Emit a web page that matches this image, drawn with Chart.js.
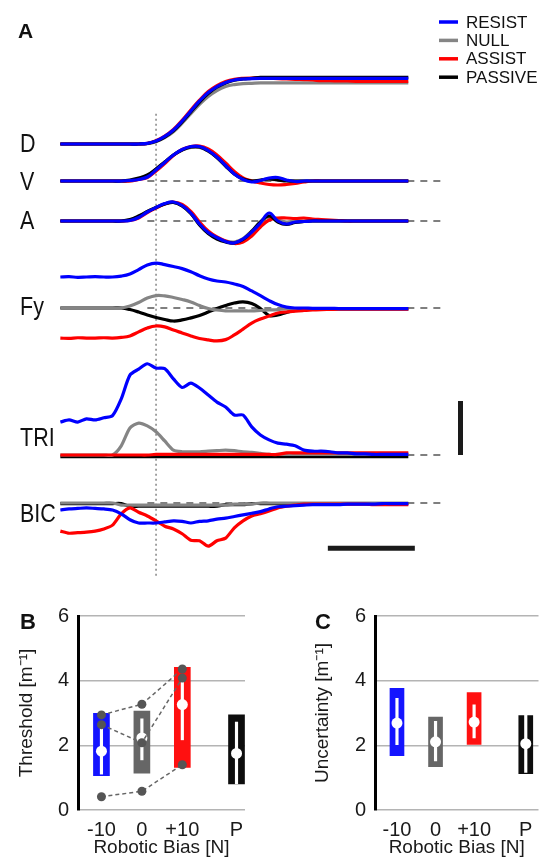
<!DOCTYPE html>
<html>
<head>
<meta charset="utf-8">
<script src="https://cdn.jsdelivr.net/npm/chart.js@4.4.0/dist/chart.umd.min.js"></script>
<style>
  html, body { margin: 0; padding: 0; background: #fff; }
  #fig { position: relative; width: 544px; height: 860px; overflow: hidden; }
  #fig canvas { position: absolute; }
</style>
</head>
<body>
<div id="fig">
  <canvas id="traces" width="544" height="595" style="left:0;top:0;width:544px;height:595px"></canvas>
  <canvas id="threshold" width="272" height="265" style="left:0;top:595px;width:272px;height:265px"></canvas>
  <canvas id="uncertainty" width="272" height="265" style="left:272px;top:595px;width:272px;height:265px"></canvas>
</div>
<script>
// time in ms, 0 = movement onset (dotted line)
const timeMs = [-220, -200, -180, -160, -140, -120, -100, -80, -60, -40, -20, 0, 20, 40, 60, 80, 100, 120, 140, 160,
  180, 200, 220, 240, 260, 280, 300, 320, 340, 360, 380, 400, 420, 440, 460, 480, 500, 520, 540, 560, 580];

const conditions = ["RESIST", "NULL", "ASSIST", "PASSIVE"];
const condColors = ["#0000ff", "#858585", "#ff0000", "#000000"];

// displacement [cm]
const dResist = [0, 0, 0, 0, 0, 0, 0, 0, 0, 0, 0.1, 0.45, 1.14, 2.12, 3.48, 5.0, 6.52, 7.8, 8.71, 9.32, 9.7, 9.85, 9.92,
  9.95, 9.95, 9.95, 9.95, 9.95, 9.95, 9.95, 9.95, 9.95, 9.95, 9.95, 9.95, 9.95, 9.95, 9.95, 9.95, 9.95, 9.95];
const dNull = [0, 0, 0, 0, 0, 0, 0, 0, 0, 0, 0.05, 0.35, 0.95, 1.85, 3.15, 4.6, 6.0, 7.2, 8.1, 8.7, 9.0, 9.15, 9.2,
  9.25, 9.25, 9.25, 9.25, 9.25, 9.25, 9.25, 9.25, 9.25, 9.25, 9.25, 9.25, 9.25, 9.25, 9.25, 9.25, 9.25, 9.25];
const dAssist = [0, 0, 0, 0, 0, 0, 0, 0, 0, 0, 0.1, 0.5, 1.2, 2.2, 3.6, 5.15, 6.65, 7.95, 8.85, 9.45, 9.8, 9.95, 10.0,
  10.0, 9.95, 9.9, 9.85, 9.8, 9.75, 9.7, 9.6, 9.6, 9.55, 9.55, 9.5, 9.5, 9.5, 9.5, 9.5, 9.5, 9.5];
const dPassive = [0, 0, 0, 0, 0, 0, 0, 0, 0, 0, 0.08, 0.4, 1.05, 2.0, 3.35, 4.85, 6.35, 7.65, 8.6, 9.25, 9.65, 9.85, 9.95,
  10.1, 10.1, 10.1, 10.1, 10.1, 10.1, 10.1, 10.1, 10.1, 10.1, 10.1, 10.1, 10.1, 10.1, 10.1, 10.1, 10.1, 10.1];

// velocity [m/s]
const vResist = [0, 0, 0, 0, 0, 0, 0, 0, 0.005, 0.015, 0.04, 0.11, 0.185, 0.26, 0.315, 0.345, 0.345, 0.305, 0.24, 0.155,
  0.07, 0.015, -0.01, 0.005, 0.03, 0.035, 0.01, -0.005, 0, 0, 0, 0, 0, 0, 0, 0, 0, 0, 0, 0, 0];
const vNull = [0, 0, 0, 0, 0, 0, 0, 0, 0, 0.02, 0.05, 0.12, 0.19, 0.26, 0.31, 0.335, 0.335, 0.3, 0.235, 0.15,
  0.07, 0.02, 0, 0.005, 0.015, 0.01, 0.005, 0, 0, 0, 0, 0, 0, 0, 0, 0, 0, 0, 0, 0, 0];
const vAssist = [0, 0, 0, 0, 0, 0, 0, 0, 0, 0.015, 0.035, 0.1, 0.175, 0.255, 0.315, 0.345, 0.35, 0.32, 0.26, 0.18,
  0.095, 0.03, 0, -0.02, -0.035, -0.04, -0.035, -0.025, -0.01, 0, 0, 0, 0, 0, 0, 0, 0, 0, 0, 0, 0];
const vPassive = [0, 0, 0, 0, 0, 0, 0, 0, 0.01, 0.03, 0.06, 0.12, 0.19, 0.26, 0.31, 0.34, 0.34, 0.3, 0.235, 0.15,
  0.07, 0.02, 0, 0.01, 0.02, 0.01, 0, 0, 0, 0, 0, 0, 0, 0, 0, 0, 0, 0, 0, 0, 0];

// acceleration [m/s^2]
const aResist = [0, 0, 0, 0, 0, 0, 0, 0, 0.05, 0.35, 0.9, 1.35, 1.75, 1.9, 1.55, 0.8, -0.3, -1.15, -1.65, -2.05,
  -2.2, -1.8, -1.1, -0.2, 0.8, 0, -0.3, -0.1, -0.05, 0, 0, 0, 0, 0, 0, 0, 0, 0, 0, 0, 0];
const aNull = [0, 0, 0, 0, 0, 0, 0, 0, 0.1, 0.45, 0.95, 1.35, 1.7, 1.85, 1.5, 0.75, -0.35, -1.2, -1.7, -2.0,
  -2.1, -1.75, -1.0, -0.1, 0.4, 0.1, -0.1, 0, 0, 0, 0, 0, 0, 0, 0, 0, 0, 0, 0, 0, 0];
const aAssist = [0, 0, 0, 0, 0, 0, 0, 0, 0.05, 0.3, 0.85, 1.3, 1.7, 1.9, 1.65, 0.95, -0.1, -1.0, -1.6, -2.0,
  -2.25, -2.1, -1.5, -0.6, 0.1, 0.3, 0.3, 0.25, 0.3, 0.2, 0.15, 0.1, 0.05, 0, 0, 0, 0, 0, 0, 0, 0];
const aPassive = [0, 0, 0, 0, 0, 0, 0, 0, 0.15, 0.5, 0.95, 1.35, 1.7, 1.85, 1.5, 0.75, -0.4, -1.25, -1.8, -2.1,
  -2.2, -1.85, -1.05, -0.1, 0.5, -0.1, -0.35, -0.15, -0.05, 0, 0, 0, 0, 0, 0, 0, 0, 0, 0, 0, 0];

// handle force Fy [N]
const fyResist = [10.0, 10.1, 9.9, 10.0, 10.1, 10.0, 10.0, 10.3, 11.0, 12.4, 13.9, 14.5, 14.0, 13.4, 12.7, 11.7, 10.4,
  9.35, 8.7, 8.4, 7.75, 6.95, 5.5, 4.0, 2.4, 1.1, 0.3, 0, 0, -0.1, -0.1, -0.1, -0.2, -0.2, -0.2, -0.2, -0.2, -0.2, -0.2, -0.2, -0.2];
const fyNull = [0, 0, 0, 0, 0, 0, 0, 0, 0.65, 1.75, 3.2, 4.0, 3.9, 3.4, 2.75, 1.95, 0.8, -0.15, -0.65, -0.95,
  -0.95, -0.95, -0.95, -0.8, -0.65, -0.5, -0.3, -0.3, -0.3, -0.3, -0.3, -0.3, -0.3, -0.3, -0.3, -0.3, -0.3, -0.3, -0.3, -0.3, -0.3];
const fyAssist = [-9.7, -9.8, -9.6, -9.7, -9.7, -9.6, -9.7, -9.5, -9.0, -7.7, -6.45, -5.8, -6.1, -7.1, -8.05, -9.0, -9.85,
  -10.3, -10.6, -10.2, -8.7, -6.8, -4.85, -3.55, -2.6, -1.6, -1.3, -1.0, -0.8, -0.65, -0.5, -0.45,
  -0.4, -0.4, -0.4, -0.4, -0.4, -0.4, -0.4, -0.4, -0.4];
const fyPassive = [0, 0, 0, 0, 0, 0, 0, 0, -0.5, -1.3, -2.25, -3.05, -3.7, -4.2, -3.85, -3.2, -2.4, -1.3, -0.15, 0.8,
  1.6, 1.95, 1.45, -0.15, -2.4, -2.25, -1.45, -0.8, -0.5, -0.3, -0.3, -0.3, -0.3, -0.3, -0.3, -0.3, -0.3, -0.3, -0.3, -0.3, -0.3];

// triceps EMG [a.u.]
const triResist = [0.61, 0.65, 0.61, 0.67, 0.65, 0.69, 0.73, 1.04, 1.48, 1.59, 1.69, 1.61, 1.6, 1.41, 1.25, 1.33, 1.24,
  1.11, 0.98, 0.89, 0.74, 0.74, 0.52, 0.37, 0.28, 0.22, 0.2, 0.17, 0.09, 0.07, 0.07, 0.06, 0.04, 0.04, 0.02, 0.02,
  0.01, 0.01, 0.01, 0.01, 0.01];
const triNull = [0, 0, 0, 0, 0, 0, 0, 0.17, 0.5, 0.59, 0.54, 0.43, 0.26, 0.09, 0.06, 0.06, 0.06, 0.07, 0.08, 0.09,
  0.08, 0.06, 0.05, 0.03, 0.01, 0.01, 0.01, 0.01, 0.01, 0.01, 0.01, 0.01, 0.01, 0.01, 0.01, 0.01, 0.01, 0.01, 0.01, 0.01, 0.01];
const triAssist = [0, 0, 0, 0, 0, 0, 0, 0, 0, 0, 0, 0.01, 0.01, 0.01, 0.01, 0.01, 0.01, 0.01, 0.01, 0.01, 0.01, 0.01, 0.01,
  0.01, 0.01, 0.01, 0.04, 0.04, 0.04, 0.04, 0.04, 0.04, 0.04, 0.04, 0.04, 0.04, 0.04, 0.04, 0.04, 0.04, 0.04];
const triPassive = [-0.03, -0.03, -0.03, -0.03, -0.03, -0.03, -0.03, -0.03, -0.03, -0.03, -0.03, -0.03, -0.03, -0.03,
  -0.03, -0.03, -0.03, -0.03, -0.03, -0.03, -0.03, -0.03, -0.03, -0.03, -0.03, -0.03, -0.03, -0.03, -0.03, -0.03,
  -0.03, -0.03, -0.03, -0.03, -0.03, -0.03, -0.03, -0.03, -0.03, -0.03, -0.03];

// biceps EMG [a.u.], plotted downward
const bicResist = [-0.13, -0.11, -0.1, -0.09, -0.1, -0.11, -0.13, -0.2, -0.31, -0.37, -0.37, -0.37, -0.35, -0.33, -0.34,
  -0.37, -0.34, -0.33, -0.3, -0.28, -0.25, -0.22, -0.19, -0.16, -0.11, -0.07, -0.06, -0.05, -0.04, -0.03, -0.03,
  -0.03, -0.03, -0.02, -0.02, -0.02, -0.02, -0.01, -0.01, -0.01, -0.01];
const bicNull = [0, 0, 0, 0, 0, 0, 0, -0.04, -0.04, -0.04, -0.04, -0.04, -0.04, -0.04, -0.04, -0.04, -0.04, -0.04, -0.04,
  -0.04, -0.02, -0.02, -0.02, 0, 0, 0, 0, 0, 0, 0, 0, 0, 0, 0, 0, 0, 0, 0, 0, 0, 0];
const bicAssist = [-0.52, -0.56, -0.55, -0.54, -0.52, -0.48, -0.41, -0.2, -0.09, -0.17, -0.24, -0.33, -0.43, -0.48,
  -0.57, -0.69, -0.7, -0.8, -0.7, -0.65, -0.46, -0.33, -0.24, -0.2, -0.15, -0.09, -0.06, -0.04, -0.02, -0.02, -0.02,
  -0.02, -0.02, -0.02, -0.02, -0.02, -0.03, -0.03, -0.03, -0.03, -0.03];
const bicPassive = [-0.01, -0.01, -0.01, -0.01, -0.01, -0.01, -0.01, -0.01, -0.06, -0.06, -0.06, -0.06, -0.06, -0.06,
  -0.06, -0.06, -0.06, -0.06, -0.06, -0.03, -0.03, -0.03, -0.01, -0.01, -0.01, -0.01, -0.01, -0.01, -0.01, -0.01,
  -0.01, -0.01, -0.01, -0.01, -0.01, -0.01, -0.01, -0.01, -0.01, -0.01, -0.01];

// panels B and C
const biasLabels = ["-10", "0", "+10", "P"];
const biasPos = [-10, 0, 10, 23.4];
const boxColors = ["#1414ff", "#666666", "#ff1010", "#0d0d0d"];
const thresholdBox = [[1.06, 2.99], [1.14, 3.06], [1.32, 4.41], [0.81, 2.94]];
const thresholdWhisker = [[1.11, 2.68], [1.55, 2.82], [2.17, 4.05], [0.81, 2.72]];
const thresholdMedian = [1.82, 2.23, 3.26, 1.75];
const thresholdSubjects = [[2.94, 3.27, 4.36], [2.64, 2.08, 4.08], [0.41, 0.58, 1.40]];
const uncertaintyBox = [[1.68, 3.76], [1.34, 2.87], [2.03, 3.63], [1.12, 2.92]];
const uncertaintyWhisker = [[2.02, 3.45], [1.52, 2.74], [2.23, 3.25], [1.16, 3.04]];
const uncertaintyMedian = [2.69, 2.11, 2.72, 2.05];

Chart.defaults.font.family = "'Liberation Sans', Arial, sans-serif";
Chart.defaults.color = "#1a1a1a";

// ---------- panel A ----------
const plotTop = 60, plotBottom = 590;

// base = pixel row of the zero line, pxPerUnit = vertical gain, rank = draw order per condition (0 on top)
const rows = [
  { axis: "yD", name: "D", series: [dResist, dNull, dAssist, dPassive], base: 144, pxPerUnit: 6.6, rank: [0, 3, 2, 1], zeroLine: false, labelAt: 0.1, tension: 0.4 },
  { axis: "yV", name: "V", series: [vResist, vNull, vAssist, vPassive], base: 181, pxPerUnit: 100, rank: [0, 3, 2, 1], zeroLine: true, labelAt: 0, tension: 0.4 },
  { axis: "yA", name: "A", series: [aResist, aNull, aAssist, aPassive], base: 221, pxPerUnit: 10, rank: [0, 3, 2, 1], zeroLine: true, labelAt: 0.1, tension: 0.4 },
  { axis: "yFy", name: "Fy", series: [fyResist, fyNull, fyAssist, fyPassive], base: 308, pxPerUnit: 3.1, rank: [0, 2, 1, 3], zeroLine: true, labelAt: 0.6, tension: 0.4 },
  { axis: "yTRI", name: "TRI", series: [triResist, triNull, triAssist, triPassive], base: 455, pxPerUnit: 54, rank: [0, 2, 1, 3], zeroLine: true, labelAt: 0.33, tension: 0.25 },
  { axis: "yBIC", name: "BIC", series: [bicResist, bicNull, bicAssist, bicPassive], base: 503, pxPerUnit: 54, rank: [0, 2, 1, 3], zeroLine: true, labelAt: -0.19, tension: 0.25 }
];

const traceScales = {
  x: { type: "linear", min: -230, max: 720, display: false }
};
const traceSets = [];
rows.forEach((row, r) => {
  traceScales[row.axis] = {
    type: "linear", display: false,
    min: -(plotBottom - row.base) / row.pxPerUnit,
    max: (row.base - plotTop) / row.pxPerUnit
  };
  row.series.forEach((vals, c) => {
    traceSets.push({
      label: row.name + " " + conditions[c],
      data: vals.map((v, i) => ({ x: timeMs[i], y: v })),
      yAxisID: row.axis,
      borderColor: condColors[c],
      borderWidth: 3.2,
      pointRadius: 0,
      tension: row.tension,
      order: r * 10 + row.rank[c]
    });
  });
  if (row.zeroLine) {
    traceSets.push({
      data: [{ x: -20, y: 0 }, { x: 660, y: 0 }],
      yAxisID: row.axis,
      borderColor: "#555",
      borderWidth: 1.5,
      borderDash: [7, 6],
      pointRadius: 0,
      order: 999
    });
  }
});

// scale bars: 1 a.u. EMG and 200 ms
traceSets.push({
  data: [{ x: 700, y: 0 }, { x: 700, y: 1 }], yAxisID: "yTRI",
  borderColor: "#1a1a1a", borderWidth: 5, borderCapStyle: "butt", pointRadius: 0, order: 0
});
traceSets.push({
  data: [{ x: 395, y: -0.84 }, { x: 595, y: -0.84 }], yAxisID: "yBIC",
  borderColor: "#1a1a1a", borderWidth: 5, borderCapStyle: "butt", pointRadius: 0, order: 0
});

const panelADecor = {
  id: "panelADecor",
  beforeDatasetsDraw(chart) {
    const { ctx, scales } = chart;
    const x = scales.x.getPixelForValue(0);
    ctx.save();
    ctx.strokeStyle = "#666";
    ctx.lineWidth = 1.2;
    ctx.setLineDash([2, 3]);
    ctx.beginPath();
    ctx.moveTo(x, scales.yD.getPixelForValue(4.6));
    ctx.lineTo(x, scales.yBIC.getPixelForValue(-1.4));
    ctx.stroke();
    ctx.restore();
  },
  afterDraw(chart) {
    const { ctx, scales } = chart;
    ctx.save();
    ctx.fillStyle = "#111";
    ctx.textBaseline = "middle";
    ctx.font = "bold 21px 'Liberation Sans', Arial, sans-serif";
    ctx.fillText("A", 18, 32);

    // row labels, slightly condensed
    ctx.font = "25px 'Liberation Sans', Arial, sans-serif";
    ctx.textBaseline = "alphabetic";
    rows.forEach(row => {
      const y = scales[row.axis].getPixelForValue(row.labelAt);
      ctx.save();
      ctx.translate(20, y + 9);
      ctx.scale(0.86, 1);
      ctx.fillText(row.name, 0, 0);
      ctx.restore();
    });

    // legend
    ctx.font = "17px 'Liberation Sans', Arial, sans-serif";
    ctx.textBaseline = "middle";
    conditions.forEach((name, i) => {
      const y = 22 + i * 18.4;
      ctx.strokeStyle = condColors[i];
      ctx.lineWidth = 3.5;
      ctx.beginPath();
      ctx.moveTo(439, y);
      ctx.lineTo(458, y);
      ctx.stroke();
      ctx.fillStyle = "#111";
      ctx.fillText(name, 466, y + 1);
    });
    ctx.restore();
  }
};

new Chart(document.getElementById("traces"), {
  type: "line",
  data: { datasets: traceSets },
  options: {
    responsive: false,
    animation: false,
    layout: { padding: { left: 56, right: 74.8, top: plotTop, bottom: 595 - plotBottom } },
    plugins: { legend: { display: false }, tooltip: { enabled: false } },
    scales: traceScales
  },
  plugins: [panelADecor]
});

// ---------- panels B and C ----------
function boxPanel(canvasId, letter, yTitle, boxes, whiskers, medians, subjects, g) {
  const pts = arr => biasPos.map((x, i) => ({ x: x, y: arr[i] }));
  const datasets = [
    { type: "bar", data: pts(boxes), backgroundColor: boxColors, barThickness: g.barWidth, grouped: false, order: 4 },
    { type: "bar", data: pts(whiskers), backgroundColor: "#ffffff", barThickness: 2.5, grouped: false, order: 3 },
    { type: "line", data: pts(medians), showLine: false, pointRadius: 5.5, pointBackgroundColor: "#ffffff", pointBorderWidth: 0, order: 2 }
  ];
  subjects.forEach(s => {
    datasets.push({
      type: "line",
      data: s.map((y, i) => ({ x: biasPos[i], y: y })),
      borderColor: "#666",
      borderWidth: 1.5,
      borderDash: [4, 3],
      pointRadius: 4.5,
      pointBackgroundColor: "#555",
      pointBorderWidth: 0,
      order: 1
    });
  });

  const letterPlugin = {
    id: "letter",
    afterDraw(chart) {
      const ctx = chart.ctx;
      ctx.save();
      ctx.fillStyle = "#111";
      ctx.textBaseline = "middle";
      ctx.font = "bold 22px 'Liberation Sans', Arial, sans-serif";
      ctx.fillText(letter, g.letterX, 28);
      ctx.restore();
    }
  };

  new Chart(document.getElementById(canvasId), {
    type: "bar",
    data: { datasets: datasets },
    options: {
      responsive: false,
      animation: false,
      layout: { padding: { top: 18, right: g.padRight, left: 0, bottom: 0 } },
      plugins: { legend: { display: false }, tooltip: { enabled: false } },
      scales: {
        x: {
          type: "linear", min: g.xMin, max: g.xMax, offset: false,
          grid: { display: false }, border: { display: false },
          afterBuildTicks: s => { s.ticks = biasPos.map(v => ({ value: v })); },
          afterFit: s => { s.height = 50; },
          ticks: { autoSkip: false, maxRotation: 0, padding: 0, font: { size: 20 }, callback: (v, i) => biasLabels[i] },
          title: { display: true, text: "Robotic Bias [N]", font: { size: 19 }, padding: { top: 0, bottom: 1 } }
        },
        y: {
          min: 0, max: 6,
          ticks: { stepSize: 2, padding: 9, font: { size: 20 } },
          grid: { color: "#b4b4b4", lineWidth: 1.5, drawTicks: false },
          border: { display: true, color: "#000", width: 3 },
          afterFit: s => { s.width = g.axisWidth; },
          title: { display: true, text: yTitle, font: { size: 19 }, padding: { top: g.titlePad, bottom: 0 } }
        }
      }
    },
    plugins: [letterPlugin]
  });
}

boxPanel("threshold", "B", "Threshold [m\u207B\u00B9]", thresholdBox, thresholdWhisker, thresholdMedian, thresholdSubjects,
  { axisWidth: 78, padRight: 27, titlePad: 15.6, letterX: 20, xMin: -15.8, xMax: 25.5, barWidth: 16 });
boxPanel("uncertainty", "C", "Uncertainty [m\u207B\u00B9]", uncertaintyBox, uncertaintyWhisker, uncertaintyMedian, [],
  { axisWidth: 103, padRight: 0, titlePad: 39.6, letterX: 43, xMin: -15.7, xMax: 26.7, barWidth: 14 });
</script>
</body>
</html>
